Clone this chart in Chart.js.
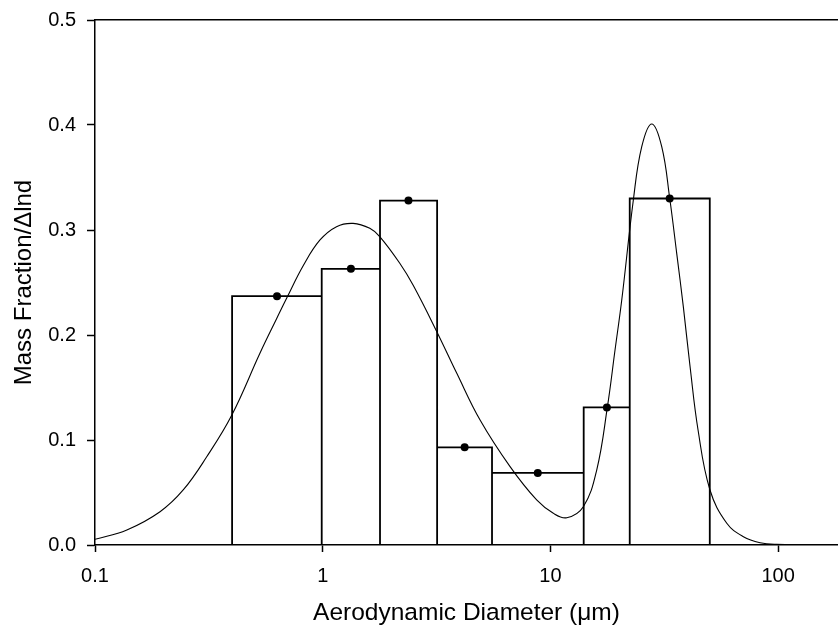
<!DOCTYPE html>
<html>
<head>
<meta charset="utf-8">
<script src="https://cdn.jsdelivr.net/npm/chart.js@4/dist/chart.umd.min.js"></script>
<style>
  html, body { margin: 0; padding: 0; background: #ffffff; overflow: hidden; }
  #wrap { width: 838px; height: 628px; position: relative; overflow: hidden; }
</style>
</head>
<body>
<div id="wrap"><canvas id="c" width="838" height="628"></canvas></div>
<script>
// ---- data ----
const binEdges  = [0.4, 0.99, 1.785, 3.18, 5.54, 14.0, 22.3, 50.1];
const binValues = [0.237, 0.263, 0.328, 0.093, 0.0686, 0.131, 0.330];
const dotX      = [0.63, 1.33, 2.38, 4.2, 8.8, 17.7, 33.4];
const dotY      = [0.237, 0.263, 0.328, 0.093, 0.0686, 0.131, 0.330];
const curveX = [0.1, 0.138, 0.193, 0.244, 0.309, 0.399, 0.530, 0.628, 0.695, 0.822, 0.973,
                1.15, 1.36, 1.61, 1.78, 2.18, 2.50, 3.17, 3.88, 4.91, 6.65, 8.70, 10.3, 11.8,
                13.95, 15.97, 17.78, 19.22, 20.57, 23.13, 25.18, 27.86, 30.82, 33.42, 35.86,
                38.34, 41.04, 44.5, 50.2, 59.5, 70.4, 83.3, 98.6, 183];
const curveY = [0.0054, 0.0143, 0.0317, 0.0524, 0.0838, 0.1238, 0.1826, 0.2157, 0.2352, 0.2662, 0.2905,
                0.3032, 0.3063, 0.3016, 0.2937, 0.2683, 0.2471, 0.2032, 0.1635, 0.119, 0.0746, 0.0429, 0.0302, 0.026,
                0.0365, 0.0714, 0.131, 0.1857, 0.2333, 0.3286, 0.3793, 0.401, 0.3793, 0.330, 0.2778,
                0.227, 0.170, 0.1095, 0.0524, 0.0207, 0.0079, 0.0022, 0.0007, 0];
const xTickValues = [0.1, 1, 10, 100];
const yTickValues = [0, 0.1, 0.2, 0.3, 0.4, 0.5];
const xTitle = 'Aerodynamic Diameter (\u03BCm)';
const yTitle = 'Mass Fraction/\u0394lnd';

// ---- build outline of the histogram bars from edges and heights ----
const barOutline = [];
for (let i = 0; i < binValues.length; i++) {
  const lo = binEdges[i], hi = binEdges[i + 1], h = binValues[i];
  barOutline.push({x: lo, y: 0}, {x: lo, y: h}, {x: hi, y: h}, {x: hi, y: 0});
}
const curvePts = curveX.map((x, i) => ({x: x, y: curveY[i]}));
const dotPts = dotX.map((x, i) => ({x: x, y: dotY[i]}));

const FONT = '"Liberation Sans", Arial, Helvetica, sans-serif';
const X_MIN = 0.1, X_MAX = 183.2;

new Chart(document.getElementById('c'), {
  type: 'scatter',
  data: {
    datasets: [
      { label: 'points', data: dotPts, order: 0, showLine: false,
        pointRadius: 4, pointHoverRadius: 4, pointBackgroundColor: '#000', pointBorderColor: '#000', pointBorderWidth: 0 },
      { label: 'fit', data: curvePts, order: 1, showLine: true, tension: 0.4,
        borderColor: '#000', borderWidth: 1.1, pointRadius: 0, pointHoverRadius: 0, fill: false },
      { label: 'bars', data: barOutline, order: 2, showLine: true, tension: 0,
        borderColor: '#000', borderWidth: 1.8, pointRadius: 0, pointHoverRadius: 0, fill: false,
        borderJoinStyle: 'miter' }
    ]
  },
  options: {
    responsive: false,
    animation: false,
    events: [],
    layout: { autoPadding: false, padding: { top: 20, right: 0, bottom: 0, left: 0 } },
    plugins: { legend: { display: false }, tooltip: { enabled: false } },
    scales: {
      x: {
        type: 'logarithmic', position: 'bottom', min: X_MIN, max: X_MAX,
        afterBuildTicks: (s) => { s.ticks = xTickValues.map(v => ({value: v})); },
        afterFit: (s) => { s.height = 83; s.paddingLeft = 0; s.paddingRight = 0; },
        ticks: { color: '#000', font: { family: FONT, size: 20 }, padding: 12, maxRotation: 0, autoSkip: false,
                 callback: (v) => String(v) },
        grid: { drawOnChartArea: false, drawTicks: true, tickLength: 7, tickColor: '#000', tickWidth: 1.5 },
        border: { display: true, color: '#000', width: 1.5 },
        title: { display: true, text: xTitle, color: '#000', font: { family: FONT, size: 24.5 }, padding: { top: 1.5, bottom: 0 } }
      },
      x2: {
        type: 'logarithmic', position: 'top', min: X_MIN, max: X_MAX,
        afterFit: (s) => { s.height = 0; s.paddingLeft = 0; s.paddingRight = 0; },
        ticks: { display: false },
        grid: { drawOnChartArea: false, drawTicks: false },
        border: { display: true, color: '#000', width: 1.5 }
      },
      y: {
        type: 'linear', position: 'left', min: 0, max: 0.5,
        afterBuildTicks: (s) => { s.ticks = yTickValues.map(v => ({value: v})); },
        afterFit: (s) => { s.width = 95; s.paddingTop = 0; s.paddingBottom = 0; },
        ticks: { color: '#000', font: { family: FONT, size: 20 }, padding: 11,
                 callback: (v) => Number(v).toFixed(1) },
        grid: { drawOnChartArea: false, drawTicks: true, tickLength: 8, tickColor: '#000', tickWidth: 1.5 },
        border: { display: true, color: '#000', width: 1.5 },
        title: { display: true, text: yTitle, color: '#000', font: { family: FONT, size: 24 }, padding: { top: 9.5, bottom: 0 } }
      }
    }
  }
});
</script>
</body>
</html>
